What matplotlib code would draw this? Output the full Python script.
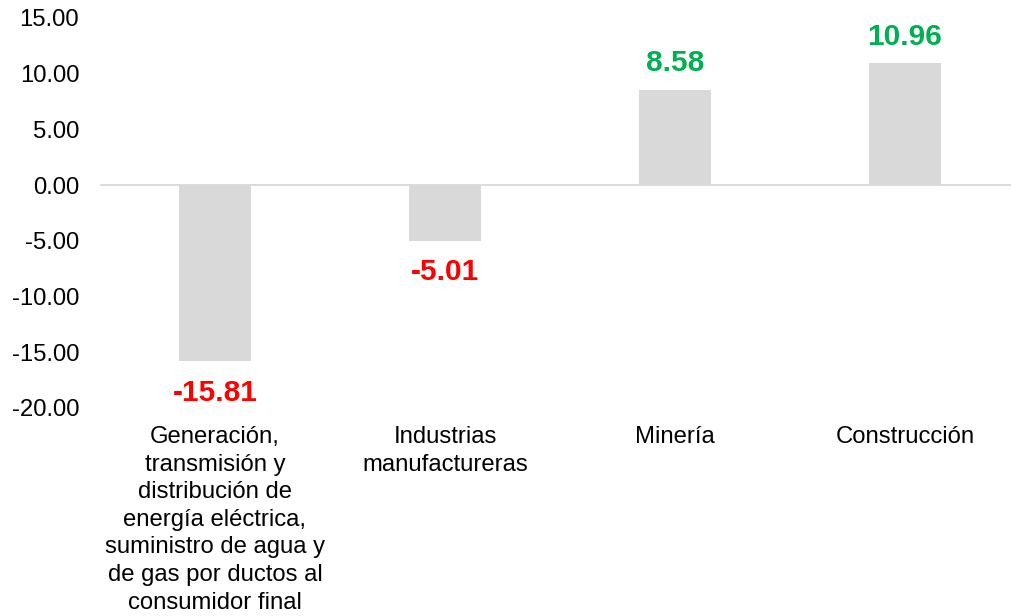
import matplotlib.pyplot as plt

plt.rcParams['font.family'] = ['Liberation Sans', 'DejaVu Sans']

# Data
categories = [
    "Generación,\ntransmisión y\ndistribución de\nenergía eléctrica,\nsuministro de agua y\nde gas por ductos al\nconsumidor final",
    "Industrias\nmanufactureras",
    "Minería",
    "Construcción",
]
values = [-15.81, -5.01, 8.58, 10.96]
yticks = [15, 10, 5, 0, -5, -10, -15, -20]

BAR_COLOR = "#d9d9d9"
POS_COLOR = "#00b050"
NEG_COLOR = "#ff0000"

W, H = 1012, 616
fig = plt.figure(figsize=(W / 100, H / 100), dpi=100)
# axes spans px x 100..1020, y 18..408
ax = fig.add_axes([100 / W, 1 - 408 / H, 920 / W, 390 / H])

xs = range(len(categories))
ax.bar(xs, values, width=0.315, color=BAR_COLOR, zorder=2)
ax.axhline(0, color=BAR_COLOR, linewidth=1.3, zorder=1)

ax.set_xlim(-0.5, len(categories) - 0.5)
ax.set_ylim(-20, 15)
ax.set_yticks(yticks)
ax.set_yticklabels([f"{t:.2f}" for t in yticks])
ax.set_xticks(list(xs))
ax.set_xticklabels(categories, linespacing=1.33)

ax.tick_params(axis='y', length=0, pad=15, labelsize=17.2, labelcolor='black')
ax.tick_params(axis='x', length=0, pad=13, labelsize=17.2, labelcolor='black')
for s in ax.spines.values():
    s.set_visible(False)

for x, v in zip(xs, values):
    if v >= 0:
        ax.annotate(f"{v:.2f}", (x, v), xytext=(0, 13), textcoords='offset points',
                    ha='center', va='baseline', fontsize=21.5, fontweight='bold',
                    color=POS_COLOR)
    else:
        ax.annotate(f"{v:.2f}", (x, v), xytext=(0, -12.5), textcoords='offset points',
                    ha='center', va='top', fontsize=21.5, fontweight='bold',
                    color=NEG_COLOR)

fig.savefig("out.png", dpi=100)
